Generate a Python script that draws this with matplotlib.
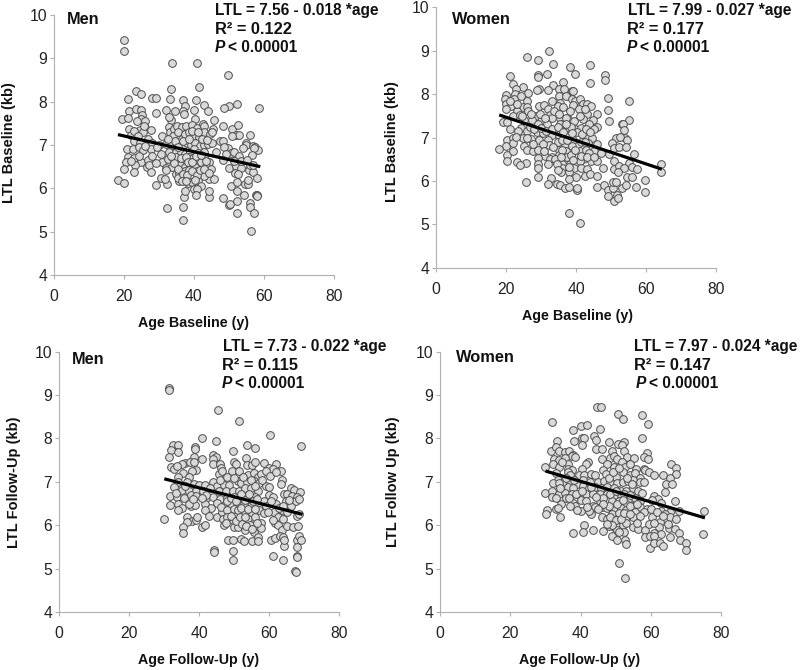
# Telomere length vs age, four scatter panels
import matplotlib
matplotlib.use('Agg')
import matplotlib.pyplot as plt

plt.rcParams['font.family'] = ['Liberation Sans', 'DejaVu Sans']

W, H = 800, 670

# values: (age, LTL)
men_base = [(20,9.42),(20,9.18),(33.7,8.9),(40.8,8.9),(49.8,8.62),(41.6,8.35),(33.6,8.3),(23.5,8.25),(25,8.18),(21.3,8.07),
(27.9,8.08),(29.2,8.08),(33.3,8.06),(37,8.03),(40.5,8.03),(52.3,7.95),(50,7.9),(48.5,7.85),(58.5,7.85),(42.8,7.92),
(44,7.78),(37.5,7.9),(32,7.8),(21.5,7.78),(23.5,7.82),(24.8,7.8),(29.3,7.75),(34.5,7.78),(37,7.78),(37.3,7.72),
(40,7.8),(19.5,7.6),(21.2,7.62),(25.3,7.7),(24.8,7.6),(33.6,7.57),(40.3,7.6),(45.7,7.58),(26,7.55),(32.8,7.65),
(33,7.42),(33.2,7.3),(34.2,7.38),(35.2,7.45),(36.5,7.42),(37.8,7.45),(39.5,7.46),(41,7.4),(42.5,7.48),(43,7.45),
(45.5,7.38),(48.3,7.45),(51,7.37),(52.5,7.46),(52,7.22),(53,7.22),(56,7.23),(21.5,7.38),(24.5,7.35),(26,7.4),
(27.8,7.34),(25.5,7.3),(22,7.22),(30.8,7.2),(34,7.2),(35.5,7.3),(36.5,7.15),(37.5,7.25),(38.5,7.3),(40,7.2),
(41.5,7.18),(43,7.3),(44.5,7.25),(45.2,7.3),(47.5,7.1),(48.2,7.1),(54.8,7.05),(55,7),(57,6.98),(57.4,6.95),
(58.4,6.88),(57.2,6.92),(54,6.92),(49.8,6.94),(50.5,6.82),(51.5,6.85),(23,7.1),(24.5,7.05),(26.8,7.15),(28,7.05),
(30,7),(32,7.02),(33.8,7),(35,7.05),(36.5,6.95),(38,7.05),(39.2,7),(40.2,7.05),(41.8,6.98),(42.8,7),
(44,7.02),(45.2,7.05),(21,6.9),(22.5,6.9),(24.3,6.95),(25.5,6.88),(27.8,6.9),(30.7,6.8),(33,6.85),(34.8,6.85),
(36.2,6.82),(37.4,6.8),(38.8,6.85),(40,6.9),(41.3,6.82),(43,6.85),(46.3,6.85),(48.5,6.95),(49.2,6.8),(52.8,6.75),
(56.6,6.78),(21.2,6.72),(23,6.7),(25,6.6),(26.8,6.65),(30.8,6.6),(32.5,6.68),(34,6.7),(35.5,6.62),(37,6.6),
(38.5,6.72),(39.8,6.7),(41,6.65),(42.8,6.72),(44.2,6.6),(48.4,6.65),(20.5,6.6),(23.3,6.53),(26.5,6.5),(27.2,6.55),
(29.2,6.58),(32,6.48),(33.8,6.5),(36,6.55),(37.6,6.5),(39,6.55),(40.3,6.5),(42,6.6),(43.5,6.52),(44.8,6.45),
(50,6.47),(52,6.52),(53.5,6.48),(55.7,6.42),(56,6.55),(20,6.45),(23,6.38),(27.7,6.38),(32,6.42),(34.8,6.32),
(35.8,6.35),(37.5,6.4),(38.5,6.42),(41,6.4),(42.5,6.3),(44.2,6.22),(45.7,6.22),(51.8,6.35),(52.5,6.33),(56.8,6.38),
(18.2,6.2),(20.1,6.12),(29.2,6.08),(30.7,6.25),(32.3,6.1),(31.8,6.22),(35.8,6.18),(35.4,6.25),(38.3,6.12),(39.5,6.15),
(41.3,6.2),(42,6.05),(42.8,6.28),(40,5.98),(40.9,5.98),(50.5,6.05),(52.3,6.15),(54.5,6.1),(55.5,6.1),(55.5,6.2),
(58,6.25),(32.2,5.55),(36.9,5.57),(36.9,5.27),(37.2,5.8),(37.5,5.95),(40.5,5.85),(44.3,5.8),(44.3,5.95),(48.2,5.77),
(50,5.62),(50.4,5.63),(52.3,5.7),(52.3,5.42),(52.2,5.95),(54.3,5.85),(56,5.67),(56,5.57),(57.2,5.42),(56.4,5.02),
(57.8,5.85),(58,5.85),(58,5.82),
(23.8,7.55),(25.6,7.45),(22.8,7.32),(24,7.2),(29.5,6.95),(26,6.98),(28,6.75),(24.2,6.75),(22,6.62),(34.5,7.1),
(35.5,6.95),(37,7.1),(38.5,7.15),(39.5,7.32),(41.3,7.3),(42.2,7.15),(43.8,7.12),(35,6.72),(36.2,6.7),(37.8,6.72),
(38.2,6.6),(39.5,6.6),(40.6,6.75),(42,6.78),(43.6,6.62),(34.3,6.58),(35.6,6.45),(36.8,6.32),(38,6.3),(39.5,6.4),
(40.8,6.3),(41.8,6.42),(43,6.45),(44.2,6.35),(36.5,6.18),(37.8,6.18),(40.2,6.2),(32.5,7.15),(33.5,6.75),(50.8,7.2),
(53.5,6.62),(55.2,6.65),(57,6.55),(51.5,6.62)]

women_base = [(32.3,9),(25.8,8.86),(29,8.78),(33.5,8.69),(38.3,8.63),(44,8.66),(29.2,8.45),(29,8.39),(31.8,8.47),(39.8,8.46),
(21,8.42),(48.2,8.43),(48.2,8.33),(44,8.26),(36.2,8.28),(33.3,8.22),(22,8.23),(24.8,8.17),(29.3,8.12),(28.9,8.1),
(22.8,8.12),(32,8.1),(35,8.12),(36.5,8.12),(38.7,8.08),(39,8.07),(26.2,8.02),(19.8,7.98),(35,7.96),(49.2,7.91),
(55,7.83),(49.2,7.64),(49.3,7.38),(55,7.4),(53,7.32),(53.5,7.3),(22.5,8),(24.2,7.95),(19.6,7.88),(22.3,7.88),
(25.8,7.85),(33,7.85),(35.5,7.8),(37,7.95),(38.8,7.88),(39.8,7.85),(41.2,7.88),(42,7.78),(43.2,7.78),(19.8,7.78),
(21.5,7.72),(24.8,7.7),(25.8,7.7),(29.5,7.72),(30.8,7.75),(32,7.65),(34.8,7.72),(36.2,7.7),(39.2,7.75),(44.2,7.72),
(20,7.65),(23,7.6),(26.2,7.6),(28.5,7.5),(32.5,7.52),(35.5,7.45),(38.2,7.6),(40.8,7.65),(43,7.55),(46,7.55),
(21.8,7.5),(23.8,7.52),(27.5,7.4),(30,7.38),(33,7.45),(36,7.3),(37.8,7.42),(39.5,7.38),(42,7.42),(44.8,7.4),
(46,7.25),(19,7.36),(20.2,7.35),(24.2,7.22),(25.2,7.4),(29,7.3),(31.8,7.3),(34,7.15),(35.5,7.3),(37.5,7.15),
(39.8,7.2),(41.5,7.22),(43.8,7.3),(45,7.2),(53.8,7.18),(54,7),(21.2,7.2),(26,7.15),(28.8,7.12),(30.5,7.1),
(33,7.05),(35,7.05),(38,7.05),(40.2,7.12),(43,7),(44.5,6.98),(51.5,7),(52.5,7.02),(54.5,6.95),(20.2,6.95),
(22,6.98),(24.8,7),(27,6.97),(29.5,6.95),(32,6.95),(34.8,6.9),(36.8,6.85),(39,6.95),(41.5,6.9),(43.5,6.88),
(46,6.85),(50.3,6.87),(50.8,6.75),(52.2,6.77),(54.2,6.77),(19.8,6.8),(17.9,6.73),(21.8,6.87),(25.2,6.8),(25.8,6.72),
(27.8,6.7),(29.2,6.72),(32.2,6.82),(35,6.72),(37,6.7),(38.8,6.8),(41,6.7),(42.8,6.72),(45,6.7),(47.2,6.65),
(49.3,6.62),(56.5,6.62),(20.2,6.6),(21.8,6.68),(31,6.58),(33.2,6.55),(35.2,6.6),(37.5,6.55),(40,6.55),(42,6.5),
(44.2,6.45),(46,6.45),(50.7,6.45),(20.2,6.47),(23,6.43),(25.7,6.42),(29,6.52),(32.5,6.5),(34,6.5),(36,6.38),
(38.3,6.4),(41.2,6.45),(55,6.42),(24,6.36),(29.2,6.38),(29.2,6.3),(32,6.4),(36,6.3),(39.5,6.3),(41.5,6.3),
(43,6.28),(47.8,6.3),(50.8,6.28),(52.2,6.35),(53.8,6.3),(56,6.33),(57.3,6.27),(64.3,6.38),(64.3,6.2),(29.2,6.1),
(32.8,6.07),(35.8,6.2),(38,6.2),(40,6.1),(42.5,6.12),(44,6.15),(46,6.12),(52,6.2),(54.5,6.08),(56,6.1),
(25.7,5.98),(31.9,5.93),(34.5,5.93),(35.5,5.9),(36.8,5.83),(38,5.87),(38,6.05),(40.3,5.8),(40.3,5.83),(46,5.85),
(48,5.9),(49,5.8),(49,5.65),(50.5,5.83),(50.5,5.97),(50.7,5.53),(51.5,5.97),(51.7,5.68),(52,5.6),(53,5.83),
(54.3,5.9),(57,5.85),(59.8,6.03),(59.7,5.75),(38,5.27),(41,5.03),
(21,7.85),(23.2,7.78),(26.8,7.25),(28,7.2),(24.5,7.5),(27,7.55),(29.8,7.55),(31,7.45),(33.8,7.62),(35,7.55),
(37,7.45),(38.5,7.25),(41,7.5),(42.5,7.65),(30,7.22),(31.5,7.15),(33,7.2),(34.8,7.25),(36.2,7.12),(37,7.32),
(38.8,7.1),(41.8,7.08),(42.8,7.2),(44,7.12),(27.8,6.85),(30.5,6.85),(33.5,6.78),(36,6.72),(36,6.95),(37.5,6.95),
(38.5,6.6),(39.8,6.72),(41.3,6.58),(42.5,6.9),(43.8,6.65),(34.5,6.4),(35.8,6.55),(38,6.32),(39,6.48),(43,6.55),
(45.2,6.55),(23.5,7.15),(22.8,7.02),(26,7),(30.8,6.7),(34.8,6.25)]

men_follow = [(31.2,9.17),(31.2,9.12),(45.4,8.66),(51.3,8.4),(60.2,8.08),(40.7,8),(44.7,7.95),(32.5,7.85),(34,7.84),(38.9,7.8),
(38.9,7.75),(31.8,7.74),(33.9,7.68),(53.7,7.84),(56,7.79),(49.5,7.7),(69,7.82),(31.2,7.58),(38.5,7.58),(43.8,7.62),
(44.9,7.58),(40.7,7.52),(53.3,7.55),(44,7.52),(36,7.43),(37.3,7.45),(35,7.42),(38.4,7.46),(43.8,7.42),(45.8,7.42),
(50,7.45),(50.6,7.42),(53.5,7.38),(55,7.38),(56,7.46),(58.5,7.44),(61.8,7.42),(60,7.33),(61,7.3),(63.4,7.26),
(32,7.35),(32.7,7.3),(33.7,7.36),(46.3,7.33),(39,7.28),(38,7.25),(35.4,7.2),(37,7.12),(33.8,7.12),(45.5,7.18),
(46.5,7.25),(49.3,7.25),(51.3,7.25),(53.8,7.15),(55.5,7.2),(56.8,7.12),(57.5,7.18),(59,7.25),(60.2,7.13),(62,7.22),
(63.5,7.05),(63.2,6.95),(34,7),(36.5,7),(38.5,6.95),(39.8,6.92),(41.5,6.93),(44,7),(45,6.9),(47,6.93),
(48.5,6.92),(51,7.02),(52,6.98),(53.5,7),(55.5,7.02),(57,6.98),(59,6.9),(59.8,6.87),(66.2,6.85),(67,6.82),
(68.8,6.77),(32.8,6.88),(35,6.82),(37,6.8),(39,6.8),(41,6.78),(43,6.85),(45.5,6.8),(47.5,6.78),(49.5,6.8),
(51.2,6.8),(53,6.85),(54.8,6.85),(56.8,6.8),(60,6.7),(61,6.65),(64.2,6.72),(65,6.72),(66.5,6.68),(68,6.65),
(31.6,6.68),(33.5,6.65),(33.3,6.75),(35.5,6.62),(37.5,6.7),(39,6.68),(41.8,6.62),(43.8,6.65),(46,6.6),(48,6.62),
(50,6.65),(52,6.62),(53.5,6.68),(55.8,6.65),(58.5,6.55),(62,6.5),(64.8,6.55),(66.2,6.45),(67.5,6.55),(68.5,6.6),
(31.6,6.47),(34,6.48),(35,6.4),(37.5,6.45),(38.8,6.47),(41.5,6.5),(43.3,6.4),(45,6.52),(47,6.45),(49,6.5),
(51,6.48),(52.8,6.5),(54.8,6.45),(57,6.4),(59,6.45),(61.3,6.3),(63.5,6.35),(65,6.3),(34,6.35),(41.5,6.35),
(42.8,6.22),(45,6.2),(46.5,6.3),(48.5,6.3),(50.5,6.25),(53,6.3),(55,6.28),(57,6.35),(58.5,6.28),(62.5,6.2),
(64,6.15),(67.8,6.22),(68.5,6.25),(30,6.15),(36.5,6.2),(37.8,6.1),(39,6.12),(39.2,6.2),(46.8,6.15),(49.5,6.12),
(52,6.1),(54,6.15),(55.8,6.1),(57.5,6.05),(61.5,6.05),(62.5,6),(36.5,6.08),(35.2,5.95),(35.2,5.81),(40.8,5.97),
(41.5,6),(47,6),(49.8,5.97),(51,5.95),(53,5.9),(55.5,5.85),(57.5,5.93),(63.5,5.9),(65,5.98),(66.8,5.95),
(68.3,5.98),(48.3,5.65),(49.5,5.65),(51.8,5.68),(52.8,5.63),(55,5.63),(56.8,5.73),(56.8,5.63),(60.5,5.65),(61.5,5.7),
(63,5.75),(63.8,5.73),(64.3,5.52),(64.3,5.65),(68,5.65),(68.5,5.75),(69,5.67),(68,5.5),(44.2,5.44),(44.2,5.39),
(49.6,5.41),(49.6,5.21),(61,5.29),(64,5.2),(68,5.3),(68,5.27),(67.3,4.94),(67.6,4.93),
(46,7.05),(48,7.12),(49.8,7.1),(52.5,7.12),(54.8,7.05),(56,6.9),(58,7.05),(47.8,6.55),(49,6.62),(50.5,6.55),
(51.8,6.72),(53,6.58),(54.2,6.72),(55.2,6.55),(56.5,6.6),(46.3,6.42),(47.8,6.35),(49.8,6.38),(51,6.35),(52,6.4),
(53.8,6.38),(55.8,6.38),(56,6.2),(47.8,6.2),(49,6.22),(50.5,6.1),(51.5,6.18),(53,6.18),(54.5,6),(56.5,6.05),
(52.3,6.02),(53.2,5.98),(55,5.92),(47.5,6.05),(60.5,6.55),(62.8,6.4),(64,6.45),(65.5,6.58),(61,6.12),(59.5,6.3),
(42,6.7),(40.8,6.62),(37,6.5),(38.2,6.6),(36,6.9)]

women_follow = [(44.8,8.72),(45.8,8.73),(50.7,8.56),(52,8.44),(57.5,8.55),(59.3,8.34),(32,8.38),(38,8.2),(40.2,8.29),(41.8,8.3),
(45.5,8.22),(43.8,8.05),(44.5,7.97),(38.2,7.94),(33.2,7.95),(40.5,8),(41,8),(40.3,7.85),(48.2,7.92),(50.8,7.87),
(52.5,7.93),(51.8,7.85),(57.5,8),(44.5,7.76),(46,7.76),(31.5,7.7),(33,7.8),(34,7.7),(35.5,7.68),(36.8,7.72),
(38,7.62),(37.5,7.6),(49,7.7),(52.5,7.7),(59,7.66),(58,7.58),(59.3,7.52),(32.5,7.52),(33.8,7.5),(35.5,7.55),
(36.3,7.42),(38.5,7.58),(46.2,7.53),(48.5,7.55),(49.5,7.6),(50.5,7.52),(53.2,7.58),(55.3,7.56),(42.2,7.45),(41.5,7.42),
(30,7.35),(32.2,7.4),(34,7.35),(36.5,7.3),(37.5,7.28),(40.3,7.3),(47.5,7.42),(49.5,7.35),(51.8,7.45),(52.8,7.35),
(54,7.42),(55.8,7.3),(58,7.3),(58.5,7.28),(65.8,7.4),(67.3,7.33),(67.3,7.19),(33,7.2),(36.5,7.22),(39.5,7.15),
(41,7.15),(43,7.18),(44.2,7.15),(46.5,7.28),(47.2,7.18),(50,7.12),(52,7.22),(54,7.15),(55.5,7.2),(57,7.1),
(59.5,7.22),(61,7.15),(63.5,7.15),(65.5,7.1),(33.5,7.05),(35,7),(37,7),(39,6.95),(40.8,7.05),(42.8,7),
(45,7),(46.8,7.02),(48.3,7),(50.5,6.98),(52,7),(53.5,7.02),(55,7.05),(57,7),(58,7),(64.5,6.96),(66,6.95),
(32.2,6.98),(34,6.98),(36.5,6.88),(38,6.85),(40.8,6.9),(42.5,6.85),(44,6.88),(45.8,6.85),(47.5,6.88),(49.5,6.85),
(51.5,6.8),(53,6.78),(55,6.85),(56.3,6.78),(57.5,6.75),(64.2,6.77),(29.8,6.74),(32,6.78),(33.8,6.72),(35.5,6.75),
(37.5,6.72),(39.5,6.7),(41.5,6.72),(43.5,6.72),(45.5,6.72),(47.5,6.72),(49.5,6.68),(51.5,6.65),(53.5,6.6),(55.5,6.62),
(57,6.55),(61,6.68),(62,6.6),(32,6.65),(33,6.62),(36,6.62),(38,6.52),(40,6.58),(41.5,6.55),(43.5,6.45),
(45.5,6.55),(47.5,6.55),(49,6.55),(51,6.55),(53,6.5),(55,6.45),(57,6.42),(59,6.38),(60.5,6.58),(63,6.52),
(67,6.56),(34.5,6.48),(38.5,6.45),(42,6.38),(44,6.42),(46,6.42),(47.5,6.4),(49.5,6.35),(51.5,6.4),(53,6.35),
(55.5,6.3),(58,6.3),(60,6.38),(63,6.33),(65.5,6.3),(68,6.32),(75.3,6.33),(30.3,6.34),(30.2,6.27),(33,6.38),
(33.5,6.4),(34.2,6.18),(40,6.32),(43,6.25),(42.5,6.33),(46,6.2),(47.5,6.15),(49,6.25),(51,6.28),(53,6.2),
(55,6.2),(57,6.22),(60.5,6.2),(62.8,6.08),(64,6.25),(65.5,6.2),(67.2,6.15),(41,6),(40.8,5.85),(38,5.82),
(43.7,5.9),(46.5,5.87),(48,5.98),(49.5,5.95),(50.3,6.02),(52,6),(53,6.05),(55,5.97),(56.5,5.92),(58.3,5.88),
(59.5,6.02),(61,5.83),(62.5,5.95),(63,5.8),(65.3,5.93),(67,5.92),(68.2,5.82),(49,5.75),(50.3,5.67),(50.5,5.88),
(52.5,5.85),(52.8,5.65),(53,5.57),(58.5,5.72),(59.8,5.75),(59.8,5.48),(61,5.75),(61,5.58),(62.8,5.58),(63.5,5.52),
(65.5,5.73),(68.3,5.66),(70,5.58),(70.2,5.44),(75,5.79),(51,5.13),(52.8,4.78),
(34.8,7.45),(37,7.15),(35.8,7.08),(38.2,7.05),(34.2,6.85),(36.8,6.62),(38.8,6.72),(48.2,7.08),(49.3,7.22),(51,7.32),
(53.2,7.1),(54.8,6.95),(48.5,6.72),(50.2,6.78),(52.3,6.72),(54,6.7),(46.5,6.62),(48.2,6.45),(50.3,6.48),(52.2,6.58),
(54.2,6.45),(56.2,6.5),(46.5,6.5),(48.5,6.18),(50,6.12),(51.5,6.15),(52.5,6.28),(54,6.25),(56,6.05),(49,6),
(51,5.85),(47.5,6.02),(45,6.38),(44.5,6.65),(43,6.88),(40.5,6.78),(41.8,6.42),(39,6.35),(37,6.45),(61.8,6.3),
(63.5,6.22),(61,6.05),(65,6.02)]

# fitted lines, ends
fit_men_base = ([18.3, 59], [7.24, 6.5])
fit_women_base = ([18, 64.5], [7.52, 6.27])
fit_men_follow = ([30, 69.5], [7.07, 6.25])
fit_women_follow = ([30, 75.5], [7.25, 6.17])

x_ticks = [0, 20, 40, 60, 80]
y_ticks = [4, 5, 6, 7, 8, 9, 10]

GREY = '#b0b0b0'


def txt(x, y, s, **kw):
    # x, y in pixels of the picture, top-left origin
    kw.setdefault('fontsize', 11.2)
    kw.setdefault('fontweight', 'bold')
    kw.setdefault('color', '#111111')
    kw.setdefault('va', 'center')
    fig.text(x / W, 1 - y / H, s, **kw)


def panel(box, data, fit, ylabel, xlabel, ylab_xy, xlab_xy, sex, sex_xy, stats, stats_xy):
    l, r, t, b = box
    ax = fig.add_axes([l / W, 1 - b / H, (r - l) / W, (b - t) / H])
    xs = [p[0] for p in data]
    ys = [p[1] for p in data]
    ax.scatter(xs, ys, s=31, c='#d9d9d9', edgecolors='#4d4d4d', linewidths=0.7, clip_on=False, zorder=3)
    ax.plot(fit[0], fit[1], color='black', lw=2.3, solid_capstyle='butt', zorder=4)
    ax.set_xlim(0, 80)
    ax.set_ylim(4, 10)
    ax.set_xticks(x_ticks)
    ax.set_yticks(y_ticks)
    ax.patch.set_alpha(0)
    ax.spines['top'].set_visible(False)
    ax.spines['right'].set_visible(False)
    ax.spines['left'].set_color(GREY)
    ax.spines['bottom'].set_color(GREY)
    ax.tick_params(axis='x', color=GREY, length=3, width=0.8, labelsize=11.3, pad=7, labelcolor='#222222')
    ax.tick_params(axis='y', color=GREY, length=3, width=0.8, labelsize=11.3, pad=2, labelcolor='#222222')
    txt(ylab_xy[0], ylab_xy[1], ylabel, rotation=90, ha='center', fontsize=10.5)
    txt(xlab_xy[0], xlab_xy[1], xlabel, ha='center', fontsize=10.3)
    txt(sex_xy[0], sex_xy[1], sex, fontsize=11.8)
    txt(stats_xy[0][0], stats_xy[0][1], stats[0])
    txt(stats_xy[1][0], stats_xy[1][1], stats[1], fontsize=11.8)
    txt(stats_xy[2][0], stats_xy[2][1], 'P', fontstyle='italic')
    txt(stats_xy[2][0] + 13, stats_xy[2][1], '< 0.00001')


fig = plt.figure(figsize=(W / 100, H / 100), dpi=100)

panel((54, 333.7, 15, 275), men_base, fit_men_base, 'LTL Baseline (kb)', 'Age Baseline (y)',
      (9, 143), (194, 323), 'Men', (67, 20), ('LTL = 7.56 - 0.018 *age', 'R² = 0.122'),
      ((215, 11), (215, 30), (215, 48)))
panel((436.3, 716, 7.3, 267.7), women_base, fit_women_base, 'LTL Baseline (kb)', 'Age Baseline (y)',
      (392, 142), (577, 316), 'Women', (452, 19), ('LTL = 7.99 - 0.027 *age', 'R² = 0.177'),
      ((628, 11), (627, 30), (627, 48)))
panel((59.3, 339.3, 351.7, 612), men_follow, fit_men_follow, 'LTL Follow-Up (kb)', 'Age Follow-Up (y)',
      (14, 482), (199, 660), 'Men', (72, 359), ('LTL = 7.73 - 0.022 *age', 'R² = 0.115'),
      ((223, 346), (222, 365), (222, 384)))
panel((440.3, 720.7, 351.7, 612), women_follow, fit_women_follow, 'LTL Follow Up (kb)', 'Age Follow-Up (y)',
      (393, 482), (580, 660), 'Women', (456, 358), ('LTL = 7.97 - 0.024 *age', 'R² = 0.147'),
      ((634, 346), (634, 365), (636, 383)))

fig.savefig('out.png', dpi=100)
